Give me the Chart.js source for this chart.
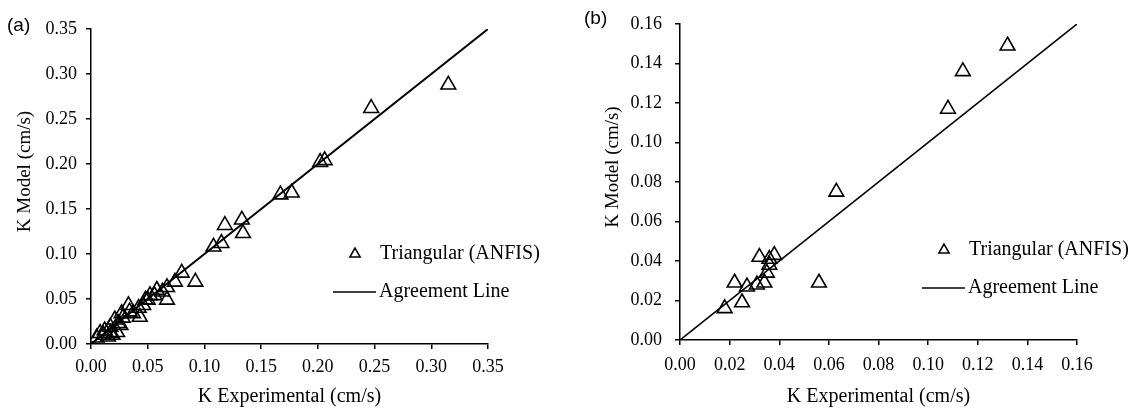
<!DOCTYPE html>
<html>
<head>
<meta charset="utf-8">
<script src="https://cdn.jsdelivr.net/npm/chart.js"></script>
<style>
  body { margin: 0; background: #fff; width: 1143px; height: 411px; position: relative; overflow: hidden; }
  .panel { position: absolute; top: 0; height: 411px; }
  .tag { position: absolute; font: 19px "Liberation Sans", Arial, sans-serif; color: #000; }
</style>
</head>
<body>
<div class="panel" style="left:0;width:571px"><canvas id="chartA" width="571" height="411"></canvas></div>
<div class="panel" style="left:571px;width:572px"><canvas id="chartB" width="572" height="411"></canvas></div>
<span class="tag" style="left:7px;top:14px">(a)</span>
<span class="tag" style="left:584px;top:7px">(b)</span>
<script>
// panel (a): measured vs modelled K
const expA = [0.315, 0.247, 0.202, 0.206, 0.167, 0.177, 0.118, 0.133, 0.134, 0.108, 0.115,
  0.092, 0.080, 0.074, 0.067, 0.067, 0.063, 0.058, 0.056, 0.052, 0.050, 0.048, 0.046, 0.042,
  0.043, 0.037, 0.033, 0.034, 0.028, 0.027, 0.026, 0.024, 0.021, 0.023, 0.017, 0.017, 0.019,
  0.015, 0.012, 0.011, 0.008, 0.005];
const modA = [0.288, 0.262, 0.202, 0.204, 0.166, 0.168, 0.132, 0.138, 0.123, 0.108, 0.112,
  0.069, 0.079, 0.069, 0.063, 0.049, 0.058, 0.060, 0.054, 0.054, 0.049, 0.049, 0.043, 0.040,
  0.030, 0.034, 0.043, 0.036, 0.029, 0.034, 0.021, 0.023, 0.027, 0.013, 0.019, 0.012, 0.010,
  0.008, 0.015, 0.010, 0.012, 0.007];

// panel (b)
const expB = [0.132, 0.114, 0.108, 0.063, 0.056, 0.018, 0.025, 0.022, 0.027, 0.032, 0.036,
  0.038, 0.035, 0.031, 0.034, 0.036];
const modB = [0.149, 0.136, 0.117, 0.075, 0.029, 0.016, 0.019, 0.029, 0.027, 0.042, 0.041,
  0.043, 0.034, 0.028, 0.029, 0.038];

const lineA = [0, 0.35];
const lineB = [0, 0.16];

const ticksA = [0, 0.05, 0.10, 0.15, 0.20, 0.25, 0.30, 0.35];
const ticksB = [0, 0.02, 0.04, 0.06, 0.08, 0.10, 0.12, 0.14, 0.16];

const serif = '"Liberation Serif", "Times New Roman", serif';

// draws the legend box and the rotated y title
const extras = {
  id: 'extras',
  afterDraw(chart, args, opts) {
    const { ctx, chartArea: ca } = chart;
    ctx.save();
    ctx.fillStyle = '#000';
    ctx.strokeStyle = '#000';

    // y title
    ctx.save();
    ctx.font = '19px ' + serif;
    ctx.textAlign = 'center';
    ctx.textBaseline = 'middle';
    ctx.translate(ca.left - opts.titleGap, (ca.top + ca.bottom) / 2 - 15);
    ctx.rotate(-Math.PI / 2);
    ctx.fillText('K Model (cm/s)', 0, 0);
    ctx.restore();

    // legend
    const tx = ca.right - 133, ty = ca.bottom - 90, r = 6;
    ctx.lineWidth = 1.5;
    ctx.beginPath();
    ctx.moveTo(tx, ty - r);
    ctx.lineTo(tx + r * 0.866, ty + r / 2);
    ctx.lineTo(tx - r * 0.866, ty + r / 2);
    ctx.closePath();
    ctx.stroke();

    const ly = ca.bottom - 52;
    ctx.lineWidth = 1.6;
    ctx.beginPath();
    ctx.moveTo(ca.right - 155, ly);
    ctx.lineTo(ca.right - 112, ly);
    ctx.stroke();

    ctx.font = '20px ' + serif;
    ctx.textAlign = 'left';
    ctx.textBaseline = 'middle';
    ctx.fillText('Triangular (ANFIS)', ca.right - 108, ty);
    ctx.fillText('Agreement Line', ca.right - 109, ly);
    ctx.restore();
  }
};

function axis(ticks, max, size, extra) {
  return Object.assign({
    type: 'linear',
    min: 0,
    max: max,
    afterBuildTicks: s => { s.ticks = ticks.map(v => ({ value: v })); },
    ticks: {
      callback: v => v.toFixed(2),
      font: { family: serif, size: 18 },
      color: '#000',
      autoSkip: false,
      maxRotation: 0
    },
    grid: { drawOnChartArea: false, tickLength: 5, color: '#000', lineWidth: 1.5 },
    border: { color: '#000', width: 1.5 }
  }, extra);
}

function makeChart(id, xs, ys, line, ticks, layout) {
  const pts = xs.map((x, i) => ({ x: x, y: ys[i] }));
  const ref = line.map(v => ({ x: v, y: v }));
  return new Chart(document.getElementById(id), {
    type: 'scatter',
    data: {
      datasets: [
        {
          label: 'Triangular (ANFIS)',
          data: pts,
          pointStyle: 'triangle',
          pointRadius: 8.5,
          borderColor: '#000',
          borderWidth: 1.6,
          backgroundColor: 'rgba(0,0,0,0)'
        },
        {
          label: 'Agreement Line',
          type: 'line',
          data: ref,
          borderColor: '#000',
          borderWidth: layout.lineWidth,
          pointRadius: 0,
          fill: false
        }
      ]
    },
    options: {
      responsive: false,
      animation: false,
      events: [],
      layout: { padding: { left: 0, top: layout.top, right: layout.right, bottom: 0 } },
      plugins: {
        legend: { display: false },
        tooltip: { enabled: false },
        extras: { titleGap: layout.titleGap }
      },
      scales: {
        x: axis(ticks, line[1], 0, {
          position: 'bottom',
          afterFit: s => { s.height = layout.xHeight; },
          ticks: Object.assign(axis(ticks).ticks, { padding: layout.xPad }),
          title: {
            display: true,
            text: 'K Experimental (cm/s)',
            font: { family: serif, size: 20 },
            color: '#000',
            padding: { top: 0, bottom: 2 }
          }
        }),
        y: axis(ticks, line[1], 0, {
          position: 'left',
          afterFit: s => { s.width = layout.yWidth; },
          ticks: Object.assign(axis(ticks).ticks, { padding: layout.yPad })
        })
      }
    },
    plugins: [extras]
  });
}

makeChart('chartA', expA, modA, lineA, ticksA,
  { top: 29, right: 83, xHeight: 67, yWidth: 91, xPad: 7, yPad: 9, titleGap: 66, lineWidth: 2 });
makeChart('chartB', expB, modB, lineB, ticksB,
  { top: 24, right: 66, xHeight: 71, yWidth: 109, xPad: 9, yPad: 13, titleGap: 67, lineWidth: 1.6 });
</script>
</body>
</html>
